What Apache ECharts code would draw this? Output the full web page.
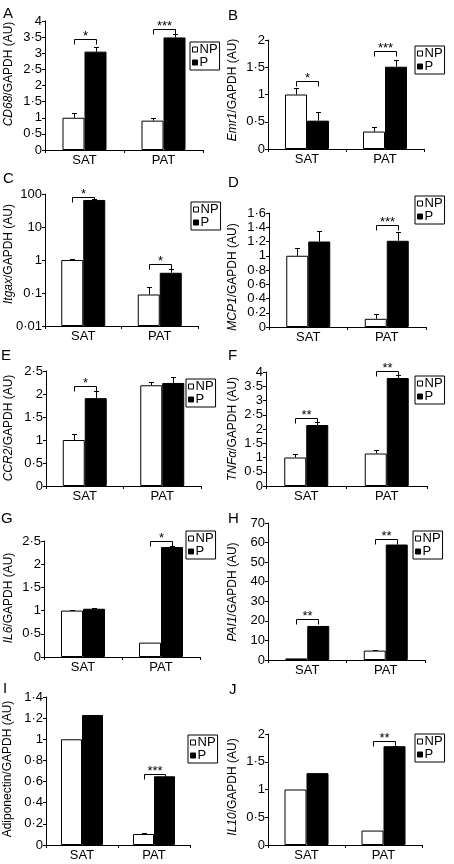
<!DOCTYPE html>
<html><head><meta charset="utf-8">
<script src="https://cdn.jsdelivr.net/npm/echarts@6/dist/echarts.min.js"></script>
<style>html,body{margin:0;padding:0;background:#fff}#c{width:454px;height:864px}</style>
</head><body><div id="c"></div><script>
const categories = ['SAT', 'PAT'];
const groupNames = ['NP', 'P'];

// A  CD68
const cd68NP = [1.0, 0.91], cd68NPerr = [0.14, 0.07];
const cd68P = [3.05, 3.49], cd68Perr = [0.15, 0.10];
const cd68Sig = ['*', '***'], cd68SigY = [3.44, 3.76];
// B  Emr1
const emr1NP = [1.0, 0.32], emr1NPerr = [0.12, 0.08];
const emr1P = [0.52, 1.51], emr1Perr = [0.15, 0.12];
const emr1Sig = ['*', '***'], emr1SigY = [1.24, 1.79];
// C  Itgax (log axis)
const itgaxNP = [1.0, 0.09], itgaxNPerr = [0.08, 0.065];
const itgaxP = [66, 0.41], itgaxPerr = [4, 0.12];
const itgaxSig = ['*', '*'], itgaxSigY = [82, 0.76];
// D  MCP1
const mcp1NP = [1.0, 0.115], mcp1NPerr = [0.115, 0.07];
const mcp1P = [1.2, 1.21], mcp1Perr = [0.15, 0.13];
const mcp1Sig = [null, '***'], mcp1SigY = [null, 1.435];
// E  CCR2
const ccr2NP = [1.0, 2.19], ccr2NPerr = [0.12, 0.08];
const ccr2P = [1.91, 2.24], ccr2Perr = [0.15, 0.13];
const ccr2Sig = ['*', null], ccr2SigY = [2.17, null];
// F  TNFα
const tnfNP = [1.0, 1.14], tnfNPerr = [0.11, 0.14];
const tnfP = [2.14, 3.79], tnfPerr = [0.10, 0.09];
const tnfSig = ['**', '**'], tnfSigY = [2.4, 4.05];
// G  IL6
const il6NP = [1.0, 0.31], il6NPerr = [0.01, 0];
const il6P = [1.04, 2.37], il6Perr = [0.02, 0.02];
const il6Sig = [null, '*'], il6SigY = [null, 2.5];
// H  PAI1
const pai1NP = [0.8, 4.8], pai1NPerr = [0, 0.4];
const pai1P = [17.4, 59.0], pai1Perr = [0, 0];
const pai1Sig = ['**', '**'], pai1SigY = [21.0, 61.8];
// I  Adiponectin
const adipoNP = [1.0, 0.104], adipoNPerr = [0, 0.005];
const adipoP = [1.23, 0.65], adipoPerr = [0, 0];
const adipoSig = [null, '***'], adipoSigY = [null, 0.676];
// J  IL10
const il10NP = [1.0, 0.26], il10NPerr = [0, 0];
const il10P = [1.295, 1.78], il10Perr = [0, 0.01];
const il10Sig = [null, '**'], il10SigY = [null, 1.87];

// y-axis ranges: [min, max, interval]
const cd68Axis = [0, 4, 0.5], emr1Axis = [0, 2, 0.5], itgaxAxis = [0.01, 100, null],
      mcp1Axis = [0, 1.6, 0.2], ccr2Axis = [0, 2.5, 0.5], tnfAxis = [0, 4, 0.5],
      il6Axis = [0, 2.5, 0.5], pai1Axis = [0, 70, 10], adipoAxis = [0, 1.4, 0.2], il10Axis = [0, 2, 0.5];

const panels = [
  {letter:'A', gene:'CD68', it:true, np:cd68NP, npE:cd68NPerr, p:cd68P, pE:cd68Perr, sig:cd68Sig, sigY:cd68SigY, ax:cd68Axis},
  {letter:'B', gene:'Emr1', it:true, np:emr1NP, npE:emr1NPerr, p:emr1P, pE:emr1Perr, sig:emr1Sig, sigY:emr1SigY, ax:emr1Axis},
  {letter:'C', gene:'Itgax', it:true, log:true, np:itgaxNP, npE:itgaxNPerr, p:itgaxP, pE:itgaxPerr, sig:itgaxSig, sigY:itgaxSigY, ax:itgaxAxis},
  {letter:'D', gene:'MCP1', it:true, np:mcp1NP, npE:mcp1NPerr, p:mcp1P, pE:mcp1Perr, sig:mcp1Sig, sigY:mcp1SigY, ax:mcp1Axis},
  {letter:'E', gene:'CCR2', it:true, np:ccr2NP, npE:ccr2NPerr, p:ccr2P, pE:ccr2Perr, sig:ccr2Sig, sigY:ccr2SigY, ax:ccr2Axis},
  {letter:'F', gene:'TNFα', it:true, np:tnfNP, npE:tnfNPerr, p:tnfP, pE:tnfPerr, sig:tnfSig, sigY:tnfSigY, ax:tnfAxis},
  {letter:'G', gene:'IL6', it:true, np:il6NP, npE:il6NPerr, p:il6P, pE:il6Perr, sig:il6Sig, sigY:il6SigY, ax:il6Axis},
  {letter:'H', gene:'PAI1', it:true, np:pai1NP, npE:pai1NPerr, p:pai1P, pE:pai1Perr, sig:pai1Sig, sigY:pai1SigY, ax:pai1Axis},
  {letter:'I', gene:'Adiponectin', it:false, np:adipoNP, npE:adipoNPerr, p:adipoP, pE:adipoPerr, sig:adipoSig, sigY:adipoSigY, ax:adipoAxis},
  {letter:'J', gene:'IL10', it:true, np:il10NP, npE:il10NPerr, p:il10P, pE:il10Perr, sig:il10Sig, sigY:il10SigY, ax:il10Axis}
];

// layout (pixels)
const layouts = [
  {g:[45, 21, 158, 129], bw:22, leg:[190, 42], let:[3, 6],   nm:[9, 74]},
  {g:[268, 40, 156, 109], bw:22, leg:[415, 46], let:[228, 8], nm:[233, 90]},
  {g:[45, 194, 153, 132], bw:22, leg:[191, 202], let:[3, 171], nm:[9, 254]},
  {g:[269, 213, 157, 114], bw:22, leg:[415, 196], let:[228, 175], nm:[233, 277]},
  {g:[46, 371, 155, 115], bw:22, leg:[186, 379], let:[1, 348], nm:[9, 428]},
  {g:[266, 372, 161, 114], bw:22, leg:[415, 376], let:[228, 348], nm:[233, 429]},
  {g:[44, 541, 156, 116], bw:22, leg:[186, 531], let:[1, 511], nm:[9, 598]},
  {g:[268, 523, 157, 137], bw:22, leg:[413, 531], let:[228, 511], nm:[233, 592]},
  {g:[46, 697, 144, 148], bw:21, leg:[188, 735], let:[3, 681], nm:[8, 769]},
  {g:[268, 734, 154, 111], bw:22, leg:[415, 734], let:[229, 682], nm:[233, 787]}
];

const FONT = "'Liberation Sans Narrow', 'Liberation Sans', Arial, sans-serif";
const fmt = v => String(+(+v).toPrecision(6)).replace('.', '\u00b7');
const px = v => Math.round(v) + 0.5;

function makeRender(k) {
  const P = panels[k], bw = layouts[k].bw;
  return function (params, api) {
    const i = params.dataIndex;
    const c = api.coord([i, P.log ? 1 : 0])[0];
    const xN = px(c - bw / 2), xP = px(c + bw / 2);
    const kids = [];
    const cap = 2.5;
    const addErr = (x, m, e) => {
      if (!e) return;
      const y0 = api.coord([i, m])[1], y1 = px(api.coord([i, m + e])[1]);
      kids.push({type:'line', shape:{x1:x, y1:y0, x2:x, y2:y1}, style:{stroke:'#000', lineWidth:1}});
      kids.push({type:'line', shape:{x1:x - cap, y1:y1, x2:x + cap, y2:y1}, style:{stroke:'#000', lineWidth:1}});
    };
    addErr(xN, P.np[i], P.npE[i]);
    addErr(xP, P.p[i], P.pE[i]);
    if (P.sig[i]) {
      const yb = px(api.coord([i, P.sigY[i]])[1]);
      kids.push({type:'polyline', shape:{points:[[xN, yb + 5], [xN, yb], [xP, yb], [xP, yb + 5]]},
                 style:{stroke:'#000', fill:null, lineWidth:1}});
      kids.push({type:'text', style:{text:P.sig[i], x:(xN + xP) / 2, y:yb - 3, align:'center',
                 verticalAlign:'middle', font:'13px ' + FONT, fill:'#000'}});
    }
    return {type:'group', children:kids};
  };
}

const grid = [], xAxis = [], yAxis = [], series = [], legend = [], graphic = [];
panels.forEach((P, k) => {
  const L = layouts[k];
  grid.push({left:L.g[0], top:L.g[1], width:L.g[2], height:L.g[3], containLabel:false, outerBoundsMode:'none'});
  xAxis.push({type:'category', gridIndex:k, data:categories, boundaryGap:true,
    axisLine:{show:true, lineStyle:{color:'#000', width:1}},
    axisTick:{show:true, length:3, lineStyle:{color:'#000'}},
    axisLabel:{color:'#000', fontSize:13, fontFamily:FONT, margin:4},
    splitLine:{show:false}});
  const ya = {gridIndex:k, min:P.ax[0], max:P.ax[1],
    axisLine:{show:true, lineStyle:{color:'#000', width:1}},
    axisTick:{show:true, length:3, lineStyle:{color:'#000'}},
    axisLabel:{color:'#000', fontSize:13, fontFamily:FONT, margin:3, formatter:fmt},
    splitLine:{show:false}};
  if (P.log) { ya.type = 'log'; ya.logBase = 10; ya.startValue = 0.01; }
  else { ya.type = 'value'; ya.interval = P.ax[2]; }
  yAxis.push(ya);
  series.push({type:'bar', name:groupNames[0], xAxisIndex:k, yAxisIndex:k, data:P.np, barWidth:L.bw, barGap:'0%',
    itemStyle:{color:'#fff', borderColor:'#000', borderWidth:1}, z:2});
  series.push({type:'bar', name:groupNames[1], xAxisIndex:k, yAxisIndex:k, data:P.p, barWidth:L.bw, barGap:'0%',
    itemStyle:{color:'#000', borderColor:'#000', borderWidth:1}, z:2});
  series.push({type:'custom', xAxisIndex:k, yAxisIndex:k, data:categories.map((c, i) => [i, 1]),
    renderItem:makeRender(k), z:5, silent:true, clip:false});
  legend.push({data:[{name:'NP', icon:'rect'}, {name:'P', icon:'rect'}], orient:'vertical',
    left:L.leg[0], top:L.leg[1], itemWidth:5, itemHeight:5, itemGap:0, padding:[1, 2, 1, 2],
    borderColor:'#000', borderWidth:1, borderRadius:0, selectedMode:false, backgroundColor:'#fff',
    itemStyle:{borderColor:'#000', borderWidth:1},
    textStyle:{fontSize:13, fontFamily:FONT, color:'#000', lineHeight:12, padding:[0, 0, 0, -3]}});
  graphic.push({type:'text', left:L.let[0], top:L.let[1], style:{text:P.letter, font:'15px ' + FONT, fill:'#000'}});
  graphic.push({type:'text', x:L.nm[0], y:L.nm[1], rotation:Math.PI / 2,
    style:{text:(P.it ? '{i|' + P.gene + '}' : P.gene) + '/GAPDH (AU)',
      rich:{i:{fontStyle:'italic', fontSize:12, fontFamily:FONT}},
      font:'12px ' + FONT, fill:'#000', align:'center', verticalAlign:'middle'}});
});

const chart = echarts.init(document.getElementById('c'), null, {renderer:'canvas'});
chart.setOption({animation:false, backgroundColor:'#fff', grid, xAxis, yAxis, series, legend, graphic});
</script></body></html>
